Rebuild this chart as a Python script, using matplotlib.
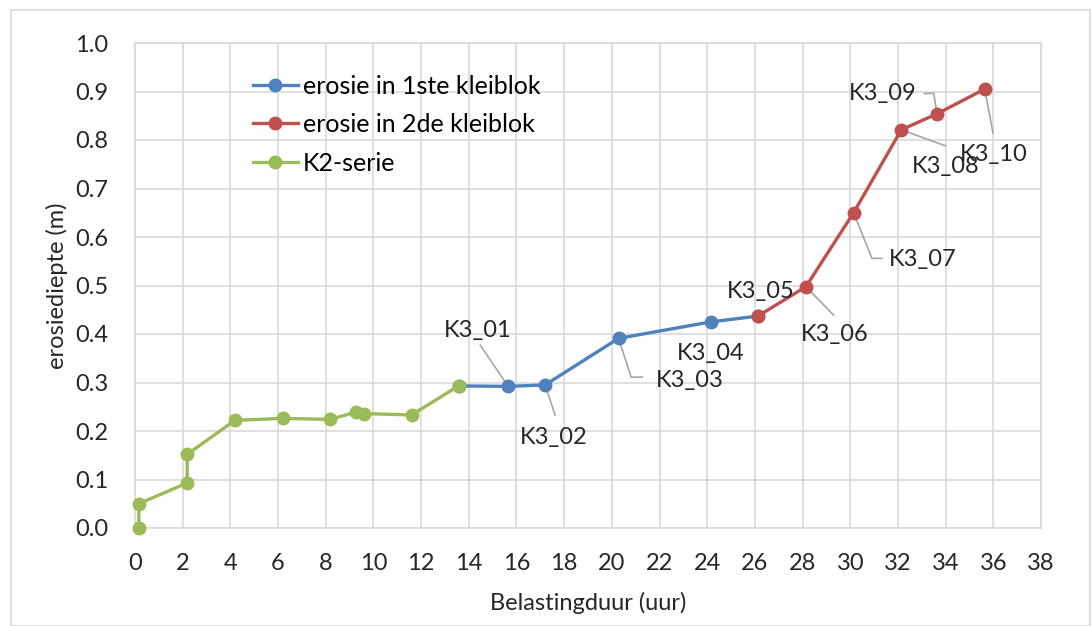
import matplotlib
import matplotlib.pyplot as plt
from matplotlib.patches import Rectangle

matplotlib.use('Agg')

plt.rcParams['font.family'] = ['Lato', 'DejaVu Sans']

# K2 series (green)
k2_x = [0.16, 0.16, 2.19, 2.19, 4.19, 6.19, 8.19, 9.26, 9.6, 11.6, 13.57]
k2_y = [0.0, 0.05, 0.093, 0.152, 0.222, 0.226, 0.224, 0.239, 0.236, 0.233, 0.293]

# erosie in 1ste kleiblok (blue)
b1_x = [13.57, 15.65, 17.2, 20.28, 24.16, 26.13]
b1_y = [0.293, 0.292, 0.295, 0.391, 0.425, 0.437]

# erosie in 2de kleiblok (red)
b2_x = [26.13, 28.14, 30.14, 32.14, 33.64, 35.64]
b2_y = [0.437, 0.4975, 0.650, 0.821, 0.854, 0.905]

# point labels: name, point, text position, leader elbow (or None)
labels = [
    ("K3_01", (15.65, 0.292), (14.39, 0.408), [(14.48, 0.377)]),
    ("K3_02", (17.2, 0.295), (17.54, 0.186), [(17.62, 0.233)]),
    ("K3_03", (20.28, 0.391), (23.29, 0.305), [(20.81, 0.311), (21.28, 0.311)]),
    ("K3_04", (24.16, 0.425), (24.13, 0.359), None),
    ("K3_05", (26.13, 0.437), (26.23, 0.487), None),
    ("K3_06", (28.14, 0.4975), (29.33, 0.398), [(29.3, 0.439)]),
    ("K3_07", (30.14, 0.650), (33.03, 0.553), [(30.91, 0.556), (31.33, 0.556)]),
    ("K3_08", (32.14, 0.821), (33.99, 0.745), [(33.99, 0.788)]),
    ("K3_09", (33.64, 0.854), (31.37, 0.895), [(33.5, 0.896), (33.1, 0.896)]),
    ("K3_10", (35.64, 0.905), (36.02, 0.771), [(35.99, 0.814)]),
]

blue = '#4F81BD'
red = '#C0504D'
green = '#9BBB59'
grid_c = '#D9D9D9'
txt_c = '#262626'
fs = 17

fig = plt.figure(figsize=(10.92, 6.26), dpi=100)
ax = fig.add_axes([135 / 1092, 1 - 528 / 626, (1041 - 135) / 1092, (528 - 43) / 626])

# figure border
fig.patches.append(Rectangle((11 / 1092, 0), 1079 / 1092, 1 - 10 / 626,
                             transform=fig.transFigure, fill=False,
                             edgecolor=grid_c, linewidth=1.2))

# leader lines
for name, pt, txt, elbow in labels:
    if elbow is None:
        continue
    xs = [pt[0]] + [e[0] for e in elbow]
    ys = [pt[1]] + [e[1] for e in elbow]
    ax.plot(xs, ys, color='#A6A6A6', linewidth=1.2, zorder=2)

ms = 9
lw = 2.4
ax.plot(b1_x, b1_y, color=blue, marker='o', markersize=ms, linewidth=lw,
        label='erosie in 1ste kleiblok', zorder=3)
ax.plot(b2_x, b2_y, color=red, marker='o', markersize=ms, linewidth=lw,
        label='erosie in 2de kleiblok', zorder=3)
ax.plot(k2_x, k2_y, color=green, marker='o', markersize=ms, linewidth=lw,
        label='K2-serie', zorder=3, clip_on=False)

for name, pt, txt, elbow in labels:
    ax.text(txt[0], txt[1], name, fontsize=fs, ha='center', va='center',
            color=txt_c, zorder=4)

ax.set_xlim(0, 38)
ax.set_ylim(0, 1.0)
ax.set_xticks(range(0, 39, 2))
ax.set_yticks([i / 10 for i in range(11)])
ax.set_yticklabels(['%.1f' % (i / 10) for i in range(11)])
ax.grid(True, color=grid_c, linewidth=1.2)
ax.set_axisbelow(True)
for s in ax.spines.values():
    s.set_color(grid_c)
    s.set_linewidth(1.2)
ax.tick_params(length=0, labelsize=fs, colors=txt_c)
ax.tick_params(axis='x', pad=18)
ax.tick_params(axis='y', pad=19)

ax.set_xlabel('Belastingduur (uur)', fontsize=fs, color=txt_c, labelpad=13)
ax.set_ylabel('erosiediepte (m)', fontsize=fs, color=txt_c, labelpad=5)

ax.legend(loc='upper left', bbox_to_anchor=(0.130, 0.935), frameon=False,
          fontsize=18, handlelength=1.8, handletextpad=0.2, labelspacing=0.62,
          borderaxespad=0, borderpad=0)

fig.savefig('out.png', dpi=100)
